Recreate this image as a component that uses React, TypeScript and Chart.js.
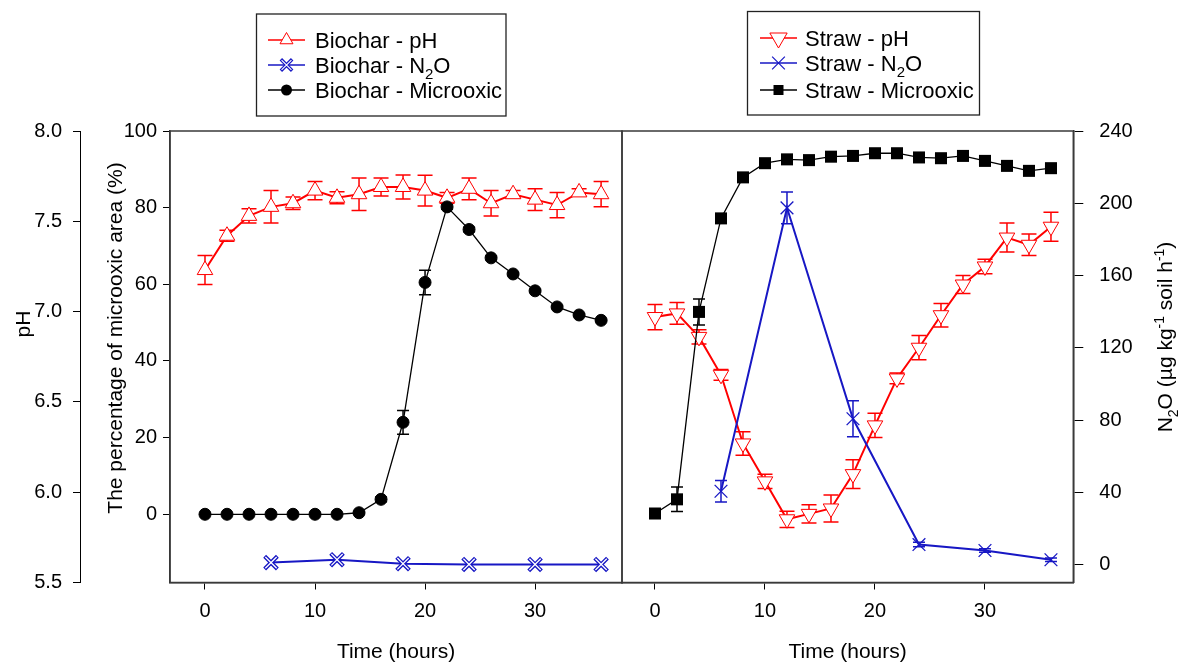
import React, { useEffect, useRef } from 'react';
import { Chart, registerables } from 'chart.js';

Chart.register(...registerables);

const FONT = '"Liberation Sans", Arial, Helvetica, sans-serif';
const RED = '#ff0000';
const BLUE = '#1717c4';
const BLACK = '#000000';

const W = 1178;
const H = 663;
const PLOT_TOP = 131;
const PLOT_BOTTOM = 582.5;
const DIVIDER = 622;
const RIGHT_EDGE = 1073.3;

// ---------- data ----------
const hours = [0, 2, 4, 6, 8, 10, 12, 14, 16, 18, 20, 22, 24, 26, 28, 30, 32, 34, 36];
const n2oHours = [6, 12, 18, 24, 30, 36];

const timeTicks = [0, 10, 20, 30];
const phTicks = [5.5, 6.0, 6.5, 7.0, 7.5, 8.0];
const microTicks = [0, 20, 40, 60, 80, 100];
const n2oTicks = [0, 40, 80, 120, 160, 200, 240];

const biocharPH = [7.23, 7.42, 7.53, 7.58, 7.6, 7.67, 7.63, 7.65, 7.69, 7.69, 7.67, 7.63, 7.68, 7.6, 7.65, 7.62, 7.59, 7.66, 7.65];
const biocharPHErr = [0.08, 0.03, 0.04, 0.09, 0.035, 0.05, 0.033, 0.09, 0.05, 0.067, 0.085, 0.03, 0.06, 0.07, 0.02, 0.06, 0.07, 0.02, 0.07];
const biocharMicro = [0, 0, 0, 0, 0, 0, 0, 0.4, 3.9, 24, 60.5, 80.2, 74.3, 66.9, 62.7, 58.3, 54.1, 52, 50.6];
const biocharMicroErr = [0, 0, 0, 0, 0, 0, 0, 0.3, 0.6, 3.1, 3.2, 0.6, 0.6, 0.5, 0.4, 0.4, 0.4, 0.3, 0.3];
const biocharN2O = [1.2, 2.8, 0.6, 0.2, 0.2, 0.2];

const strawPH = [6.97, 6.99, 6.86, 6.65, 6.27, 6.06, 5.85, 5.88, 5.91, 6.1, 6.37, 6.63, 6.8, 6.98, 7.15, 7.25, 7.41, 7.37, 7.47];
const strawPHErr = [0.07, 0.06, 0.04, 0.03, 0.065, 0.04, 0.045, 0.05, 0.075, 0.08, 0.067, 0.03, 0.067, 0.065, 0.05, 0.04, 0.08, 0.06, 0.08];
const strawMicro = [0.2, 3.9, 52.8, 77.2, 87.9, 91.6, 92.6, 92.4, 93.3, 93.5, 94.2, 94.2, 93.1, 92.9, 93.5, 92.2, 90.9, 89.6, 90.3];
const strawMicroErr = [0.3, 3.2, 3.4, 0.6, 0.6, 0.4, 0.4, 0.4, 0.4, 0.4, 0.4, 0.4, 0.4, 0.4, 0.4, 0.4, 0.4, 0.4, 0.4];
const strawN2O = [40.7, 197.5, 80.8, 11.2, 7.9, 2.8];
const strawN2OErr = [6, 8.8, 10, 1.2, 1, 1];

// ---------- helpers ----------
type Seg = { t: string; s?: 'sub' | 'sup' };

const pts = (xs: number[], ys: number[]) => xs.map((x, i) => ({ x, y: ys[i] }));

function fixedTicks(values: number[]) {
  return (scale: any) => {
    scale.ticks = values.map((v) => ({ value: v }));
  };
}

const tickFont = { family: FONT, size: 20 };
const titleFont = { family: FONT, size: 21 };

function xAxis(min: number, max: number) {
  return {
    type: 'linear',
    position: 'bottom',
    min,
    max,
    afterBuildTicks: fixedTicks(timeTicks),
    afterFit: (s: any) => {
      s.height = H - PLOT_BOTTOM;
    },
    grid: { drawOnChartArea: false, drawTicks: true, tickLength: 7, color: '#000', tickColor: '#000', lineWidth: 1 },
    border: { display: true, color: '#333', width: 1.5 },
    ticks: { font: tickFont, color: '#000', padding: 10, maxRotation: 0, autoSkip: false, callback: (v: any) => String(v) },
    title: { display: true, text: 'Time (hours)', font: titleFont, color: '#000', padding: { top: 0, bottom: -1.5 } },
  };
}

function phAxis(show: boolean) {
  if (!show) return { type: 'linear', position: 'left', display: false, min: 5.5, max: 8.0 };
  return {
    type: 'linear',
    position: 'left',
    weight: 10,
    min: 5.5,
    max: 8.0,
    afterBuildTicks: fixedTicks(phTicks),
    afterFit: (s: any) => {
      s.width = 80;
    },
    grid: { drawOnChartArea: false, drawTicks: true, tickLength: 7, color: '#000', tickColor: '#000' },
    border: { display: true, color: '#000', width: 1 },
    ticks: { font: tickFont, color: '#000', padding: 11, callback: (v: any) => Number(v).toFixed(1) },
  };
}

function microAxis(show: boolean) {
  if (!show) return { type: 'linear', position: 'left', display: false, min: -17.8, max: 100 };
  return {
    type: 'linear',
    position: 'left',
    weight: 5,
    min: -17.8,
    max: 100,
    afterBuildTicks: fixedTicks(microTicks),
    afterFit: (s: any) => {
      s.width = 90;
    },
    grid: { drawOnChartArea: false, drawTicks: true, tickLength: 7, color: '#000', tickColor: '#000' },
    border: { display: true, color: '#333', width: 1.5 },
    ticks: { font: tickFont, color: '#000', padding: 6, callback: (v: any) => String(v) },
  };
}

function n2oAxis(show: boolean) {
  if (!show) return { type: 'linear', position: 'right', display: false, min: -9.8, max: 240 };
  return {
    type: 'linear',
    position: 'right',
    min: -9.8,
    max: 240,
    afterBuildTicks: fixedTicks(n2oTicks),
    afterFit: (s: any) => {
      s.width = W - RIGHT_EDGE;
    },
    grid: { drawOnChartArea: false, drawTicks: true, tickLength: 10, color: '#000', tickColor: '#000' },
    border: { display: true, color: '#333', width: 1.5 },
    ticks: { font: tickFont, color: '#000', padding: 16, callback: (v: any) => String(v) },
  };
}

function drawMarker(ctx: CanvasRenderingContext2D, type: string, x: number, y: number, r: number, stroke: string, fill: string, lw: number) {
  ctx.save();
  ctx.lineWidth = lw;
  ctx.strokeStyle = stroke;
  ctx.fillStyle = fill;
  ctx.beginPath();
  if (type === 'triUp') {
    ctx.moveTo(x, y - r);
    ctx.lineTo(x + r * 0.866, y + r / 2);
    ctx.lineTo(x - r * 0.866, y + r / 2);
    ctx.closePath();
    ctx.fill();
    ctx.stroke();
  } else if (type === 'triDown') {
    ctx.moveTo(x, y + r);
    ctx.lineTo(x + r * 0.866, y - r / 2);
    ctx.lineTo(x - r * 0.866, y - r / 2);
    ctx.closePath();
    ctx.fill();
    ctx.stroke();
  } else if (type === 'circle') {
    ctx.arc(x, y, r, 0, Math.PI * 2);
    ctx.fill();
  } else if (type === 'square') {
    ctx.rect(x - r, y - r, 2 * r, 2 * r);
    ctx.fill();
  } else if (type === 'x') {
    const d = r * 0.707;
    ctx.moveTo(x - d, y - d);
    ctx.lineTo(x + d, y + d);
    ctx.moveTo(x + d, y - d);
    ctx.lineTo(x - d, y + d);
    ctx.stroke();
  }
  ctx.restore();
}

function drawRich(ctx: CanvasRenderingContext2D, segs: Seg[], x: number, y: number, size: number, align: 'left' | 'center', rot = 0) {
  ctx.save();
  ctx.translate(x, y);
  ctx.rotate(rot);
  const small = Math.round(size * 0.68);
  const fontFor = (s?: string) => `${s ? small : size}px ${FONT}`;
  const widths = segs.map((sg) => {
    ctx.font = fontFor(sg.s);
    return ctx.measureText(sg.t).width;
  });
  const total = widths.reduce((a, b) => a + b, 0);
  let cx = align === 'center' ? -total / 2 : 0;
  const base = size * 0.35;
  ctx.textBaseline = 'alphabetic';
  ctx.textAlign = 'left';
  ctx.fillStyle = '#000';
  segs.forEach((sg, i) => {
    ctx.font = fontFor(sg.s);
    const dy = sg.s === 'sub' ? size * 0.27 : sg.s === 'sup' ? -size * 0.42 : 0;
    ctx.fillText(sg.t, cx, base + dy);
    cx += widths[i];
  });
  ctx.restore();
}

type LegendItem = { color: string; marker: string; r: number; lw: number; fill: string; overlay?: boolean; label: Seg[] };

function drawLegend(
  ctx: CanvasRenderingContext2D,
  box: { x: number; y: number; w: number; h: number },
  rows: number[],
  line: [number, number],
  textX: number,
  items: LegendItem[]
) {
  ctx.save();
  ctx.fillStyle = '#fff';
  ctx.fillRect(box.x, box.y, box.w, box.h);
  ctx.strokeStyle = '#222';
  ctx.lineWidth = 1.3;
  ctx.strokeRect(box.x, box.y, box.w, box.h);
  items.forEach((it, i) => {
    const y = rows[i];
    ctx.strokeStyle = it.color;
    ctx.lineWidth = 1.5;
    ctx.beginPath();
    ctx.moveTo(line[0], y);
    ctx.lineTo(line[1], y);
    ctx.stroke();
    const mx = (line[0] + line[1]) / 2;
    drawMarker(ctx, it.marker, mx, y, it.r, it.color, it.fill, it.lw);
    if (it.overlay) drawMarker(ctx, it.marker, mx, y, it.r - 1, '#fff', '#fff', 1.1);
    drawRich(ctx, it.label, textX, y, 22, 'left');
  });
  ctx.restore();
}

const errorBarPlugin = {
  id: 'errorBars',
  beforeDatasetsDraw(chart: any) {
    const ctx = chart.ctx as CanvasRenderingContext2D;
    const xs = chart.scales.x;
    chart.data.datasets.forEach((ds: any) => {
      const errs: number[] | undefined = ds.errors;
      if (!errs) return;
      const ys = chart.scales[ds.yAxisID];
      const cap = ds.errCap || 6;
      ctx.save();
      ctx.strokeStyle = ds.borderColor;
      ctx.lineWidth = 1.5;
      ds.data.forEach((p: any, j: number) => {
        const e = errs[j];
        if (!e) return;
        const x = xs.getPixelForValue(p.x);
        const y1 = ys.getPixelForValue(p.y + e);
        const y2 = ys.getPixelForValue(p.y - e);
        ctx.beginPath();
        ctx.moveTo(x, y1);
        ctx.lineTo(x, y2);
        ctx.moveTo(x - cap, y1);
        ctx.lineTo(x + cap, y1);
        ctx.moveTo(x - cap, y2);
        ctx.lineTo(x + cap, y2);
        ctx.stroke();
      });
      ctx.restore();
    });
  },
};

const framePlugin = {
  id: 'frame',
  beforeDatasetsDraw(chart: any) {
    const { ctx, chartArea: a } = chart;
    ctx.save();
    ctx.strokeStyle = '#3a3a3a';
    ctx.lineWidth = 1.5;
    ctx.strokeRect(a.left, a.top, a.right - a.left, a.bottom - a.top);
    ctx.restore();
  },
};

const leftDecor = {
  id: 'leftDecor',
  afterDraw(chart: any) {
    const ctx = chart.ctx as CanvasRenderingContext2D;
    drawRich(ctx, [{ t: 'pH' }], 23, 324, 21, 'center', -Math.PI / 2);
    drawRich(ctx, [{ t: 'The percentage of microoxic area (%)' }], 115, 338, 21, 'center', -Math.PI / 2);
    drawLegend(ctx, { x: 256.5, y: 14, w: 249.5, h: 102 }, [40, 65, 90], [268, 305], 315, [
      { color: RED, marker: 'triUp', r: 7.5, lw: 1, fill: '#fff', label: [{ t: 'Biochar - pH' }] },
      { color: BLUE, marker: 'x', r: 8, lw: 3.5, fill: BLUE, overlay: true, label: [{ t: 'Biochar - N' }, { t: '2', s: 'sub' }, { t: 'O' }] },
      { color: BLACK, marker: 'circle', r: 5.5, lw: 1, fill: BLACK, label: [{ t: 'Biochar - Microoxic' }] },
    ]);
  },
};

const rightDecor = {
  id: 'rightDecor',
  afterDraw(chart: any) {
    const ctx = chart.ctx as CanvasRenderingContext2D;
    drawRich(
      ctx,
      [{ t: 'N' }, { t: '2', s: 'sub' }, { t: 'O (µg kg' }, { t: '-1', s: 'sup' }, { t: ' soil h' }, { t: '-1', s: 'sup' }, { t: ')' }],
      1165,
      337,
      21,
      'center',
      -Math.PI / 2
    );
    drawLegend(ctx, { x: 747.5, y: 11.5, w: 232, h: 103.5 }, [38, 63, 90], [760, 797], 805, [
      { color: RED, marker: 'triDown', r: 10, lw: 1, fill: '#fff', label: [{ t: 'Straw - pH' }] },
      { color: BLUE, marker: 'x', r: 9, lw: 1.2, fill: BLUE, label: [{ t: 'Straw - N' }, { t: '2', s: 'sub' }, { t: 'O' }] },
      { color: BLACK, marker: 'square', r: 5, lw: 1, fill: BLACK, label: [{ t: 'Straw - Microoxic' }] },
    ]);
  },
};

const baseLine = { showLine: true, fill: false, tension: 0, clip: false, pointHoverRadius: 0 };

function leftConfig(): any {
  return {
    type: 'line',
    data: {
      datasets: [
        {
          ...baseLine,
          label: 'Biochar - N2O (inner)',
          data: pts(n2oHours, biocharN2O),
          yAxisID: 'yN2O',
          showLine: false,
          pointStyle: 'crossRot',
          pointRadius: 8,
          pointBorderColor: '#fff',
          pointBackgroundColor: '#fff',
          pointBorderWidth: 1.3,
          borderColor: '#fff',
        },
        {
          ...baseLine,
          label: 'Biochar - N2O',
          data: pts(n2oHours, biocharN2O),
          yAxisID: 'yN2O',
          borderColor: BLUE,
          borderWidth: 2,
          pointStyle: 'crossRot',
          pointRadius: 9,
          pointBorderColor: BLUE,
          pointBackgroundColor: BLUE,
          pointBorderWidth: 4,
        },
        {
          ...baseLine,
          label: 'Biochar - Microoxic',
          data: pts(hours, biocharMicro),
          errors: biocharMicroErr,
          errCap: 6,
          yAxisID: 'yMic',
          borderColor: BLACK,
          borderWidth: 1.3,
          pointStyle: 'circle',
          pointRadius: 6,
          pointBackgroundColor: BLACK,
          pointBorderColor: BLACK,
          pointBorderWidth: 1,
        },
        {
          ...baseLine,
          label: 'Biochar - pH',
          data: pts(hours, biocharPH),
          errors: biocharPHErr,
          errCap: 7.5,
          yAxisID: 'yPH',
          borderColor: RED,
          borderWidth: 2,
          pointStyle: 'triangle',
          pointRadius: 9,
          pointBackgroundColor: '#fff',
          pointBorderColor: RED,
          pointBorderWidth: 1,
        },
      ],
    },
    options: {
      responsive: false,
      animation: false,
      devicePixelRatio: 1,
      events: [],
      layout: { padding: { top: PLOT_TOP, left: 0, right: W - DIVIDER, bottom: 0 } },
      plugins: { legend: { display: false }, tooltip: { enabled: false } },
      scales: {
        x: xAxis(-3.18, 37.9),
        yPH: phAxis(true),
        yMic: microAxis(true),
        yN2O: n2oAxis(false),
      },
    },
    plugins: [framePlugin, errorBarPlugin, leftDecor],
  };
}

function rightConfig(): any {
  return {
    type: 'line',
    data: {
      datasets: [
        {
          ...baseLine,
          label: 'Straw - N2O',
          data: pts(n2oHours, strawN2O),
          errors: strawN2OErr,
          errCap: 6,
          yAxisID: 'yN2O',
          borderColor: BLUE,
          borderWidth: 2,
          pointStyle: 'crossRot',
          pointRadius: 9,
          pointBorderColor: BLUE,
          pointBackgroundColor: BLUE,
          pointBorderWidth: 1.3,
        },
        {
          ...baseLine,
          label: 'Straw - Microoxic',
          data: pts(hours, strawMicro),
          errors: strawMicroErr,
          errCap: 6,
          yAxisID: 'yMic',
          borderColor: BLACK,
          borderWidth: 1.3,
          pointStyle: 'rect',
          pointRadius: 8.5,
          pointBackgroundColor: BLACK,
          pointBorderColor: BLACK,
          pointBorderWidth: 0,
        },
        {
          ...baseLine,
          label: 'Straw - pH',
          data: pts(hours, strawPH),
          errors: strawPHErr,
          errCap: 7.5,
          yAxisID: 'yPH',
          borderColor: RED,
          borderWidth: 2,
          pointStyle: 'triangle',
          pointRotation: 180,
          pointRadius: 9,
          pointBackgroundColor: '#fff',
          pointBorderColor: RED,
          pointBorderWidth: 1,
        },
      ],
    },
    options: {
      responsive: false,
      animation: false,
      devicePixelRatio: 1,
      events: [],
      layout: { padding: { top: PLOT_TOP, left: DIVIDER, right: 0, bottom: 0 } },
      plugins: { legend: { display: false }, tooltip: { enabled: false } },
      scales: {
        x: xAxis(-3, 38.03),
        yPH: phAxis(false),
        yMic: microAxis(false),
        yN2O: n2oAxis(true),
      },
    },
    plugins: [framePlugin, errorBarPlugin, rightDecor],
  };
}

export default function App() {
  const leftRef = useRef<HTMLCanvasElement>(null);
  const rightRef = useRef<HTMLCanvasElement>(null);

  useEffect(() => {
    if (!leftRef.current || !rightRef.current) return;
    const c1 = new Chart(leftRef.current, leftConfig());
    const c2 = new Chart(rightRef.current, rightConfig());
    return () => {
      c1.destroy();
      c2.destroy();
    };
  }, []);

  return (
    <div style={{ position: 'absolute', left: 0, top: 0, width: W, height: H, background: '#fff', overflow: 'hidden' }}>
      <canvas ref={leftRef} width={W} height={H} style={{ position: 'absolute', left: 0, top: 0 }} />
      <canvas ref={rightRef} width={W} height={H} style={{ position: 'absolute', left: 0, top: 0 }} />
    </div>
  );
}
